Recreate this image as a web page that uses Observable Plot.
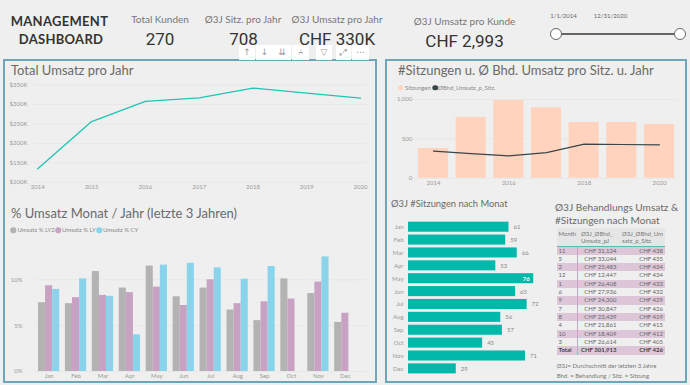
<!DOCTYPE html>
<html><head><meta charset="utf-8">
<script src="https://cdn.jsdelivr.net/npm/d3@7"></script>
<script src="https://cdn.jsdelivr.net/npm/@observablehq/plot@0.6"></script>
<style>
html,body{margin:0;padding:0;background:#efefef;}
#page{position:relative;width:690px;height:385px;overflow:hidden;background:#efefef;font-family:Lato,sans-serif;}
.abs{position:absolute;white-space:nowrap;line-height:1;}
.center{transform:translate(-50%,-50%);}
.vmid{transform:translateY(-50%);}
.panel{position:absolute;border:2px solid #6da6b8;box-sizing:border-box;}
.title{color:#6a6a6a;font-size:13px;}
.kl{color:#777;font-size:10px;}
.kv{color:#333;font-size:17px;font-family:Roboto,sans-serif;}
.head{color:#333;font-size:13px;font-weight:700;font-family:Lato,sans-serif;letter-spacing:.3px;}
.leg{color:#888;font-size:6px;}
.dot{position:absolute;width:5.5px;height:5.5px;border-radius:50%;transform:translate(-50%,-50%);}
svg{position:absolute;overflow:visible;background:transparent;}
table{border-collapse:collapse;table-layout:fixed;font-size:6px;color:#666;position:absolute;}
td,th{padding:0 1.5px;height:8.33px;line-height:8.33px;white-space:nowrap;overflow:hidden;box-sizing:border-box;font-weight:400;}
td.n{text-align:right;}
td.m{border-right:1px solid #7fc8c4;}
tr.band td{background:#dcc6d8;}
tr.total td{font-weight:700;color:#444;}
th{height:18px;line-height:7px;background:#e6e6e6;text-align:left;vertical-align:top;padding-top:2px;border-bottom:1px solid #5fb6bd;color:#777;}
th.w{white-space:normal;word-break:break-all;padding-left:4px;}
.tool{position:absolute;background:#fff;color:#999;font:9px "DejaVu Sans",sans-serif;text-align:center;line-height:15px;}
</style></head>
<body><div id="page"></div>
<script>
const years = [2014,2015,2016,2017,2018,2019,2020];
const umsatzK = [134.5,256,308,317,342,329,316];
const months = ["Jan","Feb","Mar","Apr","May","Jun","Jul","Aug","Sep","Oct","Nov","Dec"];
const ly2 = [7.5,7.4,10.9,9.1,11.5,8.15,9.1,6.7,5.55,10.1,8.5,5.35];
const ly = [9.35,8.05,8.3,8.6,9.2,7.2,10.0,7.4,7.6,7.9,9.75,6.35];
const cy = [8.95,10.1,8.2,4.0,11.6,11.8,11.3,10.07,11.45,null,12.5,null];
const seriesNames = ["Umsatz % LY2","Umsatz % LY","Umsatz % CY"];
const seriesColors = ["#b3b3b3","#c8a2c2","#8ad4eb"];
const sitzungen = [377,771,987,894,708,708,682];
const bhdUmsatz = [343,313,284,326,432,428,424];
const sitzMonat = [61,59,66,53,76,65,72,56,57,45,71,29];
const tblMonth = ["11","5","2","12","1","6","9","7","8","4","10","3"];
const tblUmsatz = ["CHF 31,124","CHF 33,044","CHF 25,483","CHF 12,447","CHF 26,408","CHF 27,936","CHF 24,300","CHF 30,847","CHF 23,439","CHF 21,861","CHF 18,409","CHF 26,614"];
const tblSitz = ["CHF 438","CHF 435","CHF 434","CHF 434","CHF 433","CHF 432","CHF 429","CHF 426","CHF 419","CHF 415","CHF 412","CHF 405"];

const page = document.getElementById("page");
const FONT = 'Lato,sans-serif', GRID = "#e7e7e7", TICK = "#999", FS = "6px";
function txt(s,x,y,cls,anchor){const d=document.createElement("div");d.className="abs "+cls+" "+(anchor||"center");d.textContent=s;d.style.left=x+"px";d.style.top=y+"px";page.append(d);return d;}
function dot(x,y,c){const d=document.createElement("div");d.className="dot";d.style.left=x+"px";d.style.top=y+"px";d.style.background=c;page.append(d);}
function place(p,l,t){p.style.left=l+"px";p.style.top=t+"px";page.append(p);}
function box(l,t,w,h,css){const d=document.createElement("div");d.style.cssText=`position:absolute;left:${l}px;top:${t}px;width:${w}px;height:${h}px;`+css;page.append(d);return d;}
const base = {style:{background:"transparent",fontFamily:FONT,fontSize:FS,color:TICK}};

// panels
const p1=document.createElement("div");p1.className="panel";p1.style.cssText="left:3px;top:59px;width:374px;height:323.5px";page.append(p1);
const p2=document.createElement("div");p2.className="panel";p2.style.cssText="left:385px;top:59px;width:302px;height:324px";page.append(p2);

// header
txt("MANAGEMENT",59.5,21,"head");txt("DASHBOARD",61,39,"head");
txt("Total Kunden",160,19,"kl");txt("Ø3J Sitz. pro Jahr",243,19,"kl");txt("Ø3J Umsatz pro Jahr",337,19,"kl");txt("Ø3J Umsatz pro Kunde",464.5,21,"kl");
txt("270",160,38.5,"kv");txt("708",243.5,38.5,"kv");txt("CHF 330K",337,38.5,"kv");txt("CHF 2,993",464.5,40.5,"kv");
const dl=txt("1/1/2014",563.5,16,"leg");dl.style.color="#666";
const dr=txt("12/31/2020",610.5,16,"leg");dr.style.color="#666";
box(555.5,32.5,124,2,"background:#666");
for(const x of [555.5,679.5]) box(x-6,27.5,12,12,"box-sizing:border-box;background:#fff;border:1.5px solid #666;border-radius:50%");

// toolbar
[["↑",239,16],["↓",256,17],["⇊",273,18],["⑃",292,17],["▽",316,16],["⤢",336,15],["⋯",352,17]].forEach(([g,l,w])=>{
  const d=box(l,45,w,15,"");d.className="tool";d.textContent=g;
});

// Total Umsatz pro Jahr
txt("Total Umsatz pro Jahr",11,70,"title","vmid");
place(Plot.plot({...base,width:370,height:120,marginLeft:28,marginRight:9,marginTop:9.5,marginBottom:13.3,
  x:{type:"point",domain:years,range:[32.3,355],padding:0,round:false},
  y:{domain:[100,350]},
  marks:[
    Plot.ruleY([100,150,200,250,300,350],{stroke:GRID}),
    Plot.axisY({ticks:[100,150,200,250,300,350],tickSize:0,tickPadding:6,label:null,tickFormat:d=>`$${d}K`,fill:TICK,fontSize:6}),
    Plot.axisX({tickSize:0,tickPadding:3,label:null,tickFormat:d=>String(d),fill:TICK,fontSize:6}),
    Plot.line(years.map((y,i)=>({y,v:umsatzK[i]})),{x:"y",y:"v",stroke:"#1fc4b4",strokeWidth:1.3})
  ]}),5,75);

// % Umsatz Monat / Jahr
txt("% Umsatz Monat / Jahr (letzte 3 Jahren)",11,212.7,"title","vmid");
[[13.3,17.5],[58,62],[99,103]].forEach(([dx,tx],i)=>{dot(dx,230,seriesColors[i]);txt(seriesNames[i],tx,230,"leg","vmid");});
const rows2=[];
months.forEach((m,i)=>{[ly2,ly,cy].forEach((arr,s)=>{if(arr[i]!=null)rows2.push({m,s:seriesNames[s],v:arr[i]});});});
const ticks2=[0,5,10];
place(Plot.plot({...base,width:370,height:141,marginLeft:30.15,marginRight:16.7,marginTop:0,marginBottom:10,
  fx:{domain:months,paddingInner:.21,paddingOuter:.105,label:null,round:false},
  x:{domain:seriesNames,padding:0,round:false},
  y:{domain:[0,13],range:[131,11.8]},
  color:{domain:seriesNames,range:seriesColors},
  marks:[
    Plot.ruleY(ticks2,{stroke:GRID,insetLeft:-3,insetRight:-3}),
    Plot.ruleY(ticks2,{stroke:GRID,fx:()=>"Dec",insetRight:-11}),
    Plot.barY(rows2,{fx:"m",x:"s",y:"v",fill:"s"}),
    Plot.axisFx({anchor:"bottom",tickSize:0,tickPadding:2.5,label:null,fill:TICK,fontSize:6}),
    Plot.axisX({ticks:[],label:null}),
    Plot.axisY({ticks:ticks2,anchor:"left",tickSize:0,tickPadding:16,label:null,tickFormat:d=>d+"%",fill:TICK,fontSize:6})
  ]}),5,240);

// Sitzungen & Bhd
txt("#Sitzungen u. Ø Bhd. Umsatz pro Sitz. u. Jahr",398,70,"title","vmid");
dot(400.7,87.7,"#ffd3bd");txt("Sitzungen",405,87.7,"leg","vmid");
dot(435,87.7,"#374649");txt("ØBhd_Umsatz_p_Sitz.",438,87.7,"leg","vmid");
const rows3=years.map((y,i)=>({y,s:sitzungen[i],b:bhdUmsatz[i]}));
place(Plot.plot({...base,width:296,height:100,marginLeft:26.2,marginRight:6.2,marginTop:9,marginBottom:12.3,
  x:{type:"band",domain:years,paddingInner:.2,paddingOuter:.1,align:.5,round:false},
  y:{domain:[0,1000]},
  marks:[
    Plot.ruleY([0,500,1000],{stroke:GRID}),
    Plot.barY(rows3,{x:"y",y:"s",fill:"#ffd3bd"}),
    Plot.line(rows3,{x:"y",y:"b",stroke:"#374649",strokeWidth:1.2}),
    Plot.axisY({ticks:[0,500,1000],tickSize:0,tickPadding:2.5,label:null,tickFormat:d3.format(","),fill:TICK,fontSize:6}),
    Plot.axisX({ticks:[2014,2016,2018,2020],tickSize:0,tickPadding:3,label:null,tickFormat:d=>String(d),fill:TICK,fontSize:6})
  ]}),388,90);

// Sitzungen nach Monat
txt("Ø3J #Sitzungen nach Monat",391,204,"title","vmid").style.fontSize="9.4px";
const rows4=months.map((m,i)=>({m,v:sitzMonat[i]}));
const peak=d3.max(sitzMonat);
place(Plot.plot({...base,width:160,height:158,marginLeft:20,marginRight:8.2,marginTop:2.26,marginBottom:1.2,
  x:{domain:[0,80]},
  y:{domain:months,paddingInner:.22,paddingOuter:.11,align:.5,round:false},
  marks:[
    Plot.barX(rows4,{y:"m",x:"v",fill:"#01b8aa"}),
    Plot.text(rows4.filter(d=>d.v<peak),{y:"m",x:"v",text:d=>String(d.v),textAnchor:"start",dx:4.5,fill:"#888",fontSize:6}),
    Plot.text(rows4.filter(d=>d.v===peak),{y:"m",x:"v",text:d=>String(d.v),textAnchor:"end",dx:-4,fill:"#fff",fontWeight:700,fontSize:6}),
    Plot.axisY({tickSize:0,tickPadding:5,label:null,fill:TICK,fontSize:6}),
    Plot.axisX({ticks:[],label:null})
  ]}),388,218);

// table
const tt1=txt("Ø3J Behandlungs Umsatz &",555,207,"title","vmid");tt1.style.fontSize="10.1px";
const tt2=txt("#Sitzungen nach Monat",555,219.5,"title","vmid");tt2.style.fontSize="10.1px";
const t=document.createElement("table");
t.style.cssText="left:557px;top:228px;width:107.5px";
let html='<colgroup><col style="width:20px"><col style="width:41px"><col style="width:46.5px"></colgroup>';
html+='<tr><th>Month</th><th class="w">Ø3J_ØBhd_Umsatz_pJ</th><th class="w">Ø3J_ØBhd_Umsatz_p_Sitz.</th></tr>';
tblMonth.forEach((m,i)=>{html+=`<tr class="${i%2==0?"band":""}"><td class="m">${m}</td><td class="n">${tblUmsatz[i]}</td><td class="n">${tblSitz[i]}</td></tr>`;});
html+='<tr class="band total"><td class="m">Total</td><td class="n">CHF 301,913</td><td class="n">CHF 426</td></tr>';
t.innerHTML=html;page.append(t);
const f1=txt("Ø3J= Durchschnitt der letzten 3 Jahre",556.7,366,"leg","vmid");f1.style.color="#777";
const f2=txt("Bhd. = Behandlung / Sitz. = Sitzung",556.7,376,"leg","vmid");f2.style.color="#777";
</script>
</body></html>
